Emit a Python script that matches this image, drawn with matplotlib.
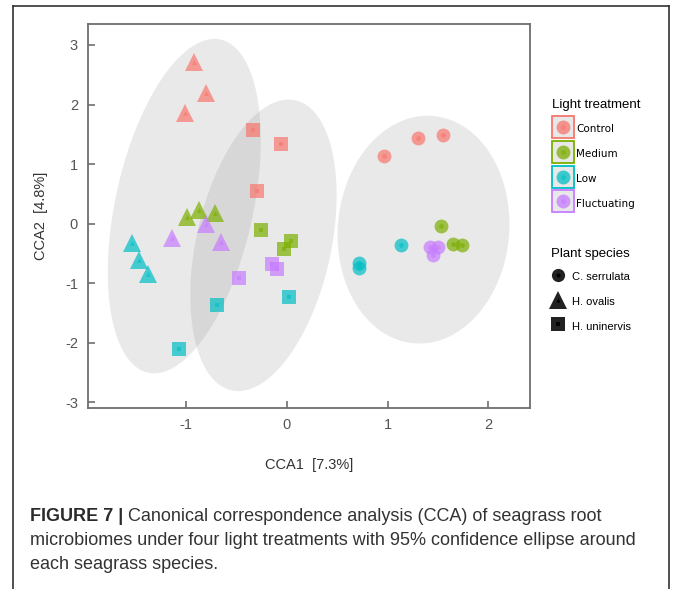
import numpy as np
import matplotlib.pyplot as plt
from matplotlib.patches import Polygon
from matplotlib.lines import Line2D

# light treatments and species
treatments = ['Control', 'Medium', 'Low', 'Fluctuating']
tr_colors = ['#F8766D', '#7CAE00', '#00BFC4', '#C77CFF']
species = ['C. serrulata', 'H. ovalis', 'H. uninervis']
sp_markers = ['o', '^', 's']

# CCA scores, per species, per treatment (3 replicates each)
cca1_cs = [[0.96, 1.30, 1.55], [1.53, 1.65, 1.74], [1.13, 0.72, 0.72], [1.42, 1.50, 1.45]]
cca2_cs = [[1.13, 1.44, 1.49], [-0.04, -0.34, -0.36], [-0.36, -0.67, -0.75], [-0.39, -0.40, -0.53]]
cca1_ho = [[-0.92, -0.80, -1.01], [-0.99, -0.87, -0.71], [-1.53, -1.46, -1.37], [-0.80, -1.14, -0.65]]
cca2_ho = [[2.71, 2.19, 1.86], [0.11, 0.23, 0.18], [-0.33, -0.61, -0.85], [-0.01, -0.25, -0.31]]
cca1_hu = [[-0.33, -0.06, -0.29], [-0.25, 0.04, -0.03], [0.02, -0.69, -1.07], [-0.14, -0.10, -0.47]]
cca2_hu = [[1.57, 1.34, 0.55], [-0.11, -0.29, -0.42], [-1.23, -1.37, -2.11], [-0.68, -0.77, -0.91]]

scores = [(cca1_cs, cca2_cs), (cca1_ho, cca2_ho), (cca1_hu, cca2_hu)]


def cov_trob(X, nu=5, maxit=25, tol=0.01):
    # multivariate t robust covariance, like MASS::cov.trob
    n, p = X.shape
    loc = X.mean(axis=0)
    w = np.ones(n)
    for _ in range(maxit):
        w0 = w
        Xc = X - loc
        u, d, vt = np.linalg.svd(np.sqrt(w / w.sum())[:, None] * Xc, full_matrices=False)
        wX = Xc @ vt.T @ np.diag(1 / d)
        Q = (wX ** 2).sum(axis=1)
        w = (nu + p) / (nu + Q)
        loc = (w[:, None] * X).sum(axis=0) / w.sum()
        if np.all(np.abs(w - w0) < tol):
            break
    Xc = X - loc
    cov = (np.sqrt(w)[:, None] * Xc).T @ (np.sqrt(w)[:, None] * Xc) / n
    return loc, cov


plt.rcParams['font.family'] = ['Liberation Sans', 'DejaVu Sans']
plt.rcParams['axes.unicode_minus'] = False

fig = plt.figure(figsize=(6.75, 5.89), dpi=100)
ax = fig.add_axes([0.130, 0.307, 0.655, 0.652])

# 95% ellipses around each species
th = np.linspace(0, 2 * np.pi, 200)
circ = np.column_stack([np.cos(th), np.sin(th)])
for xs, ys in scores:
    X = np.column_stack([np.ravel(xs), np.ravel(ys)])
    n = len(X)
    loc, cov = cov_trob(X)
    F = (n - 1) / 2 * (0.05 ** (-2 / (n - 1)) - 1)
    r = np.sqrt(2 * F)
    L = np.linalg.cholesky(cov)
    pts = loc + r * circ @ L.T
    ax.add_patch(Polygon(pts, closed=True, facecolor='#808080', alpha=0.17,
                         edgecolor='none', zorder=1))

sizes = {'o': 10, '^': 13, 's': 10.5}
for (xs, ys), m in zip(scores, sp_markers):
    for i, c in enumerate(tr_colors):
        ax.plot(xs[i], ys[i], ls='none', marker=m, ms=sizes[m], color=c, alpha=0.7, mew=0, zorder=3)
        ax.plot(xs[i], ys[i], ls='none', marker=m, ms=3.5, color=c, alpha=0.6, mew=0, zorder=4)

ax.set_xlim(-1.97, 2.41)
ax.set_ylim(-3.1, 3.35)
ax.set_xticks([-1, 0, 1, 2])
ax.set_yticks([-3, -2, -1, 0, 1, 2, 3])
ax.tick_params(direction='in', length=5, width=1.2, color='#6e6e6e', labelcolor='#555555',
               labelsize=10.5, pad=7)
for s in ax.spines.values():
    s.set_color('#6e6e6e')
    s.set_linewidth(1.3)
ax.set_xlabel('CCA1  [7.3%]', fontsize=10.5, color='#333333', labelpad=19)
ax.set_ylabel('CCA2  [4.8%]', fontsize=10.5, color='#333333', labelpad=12)

# legends
h1 = []
for c in tr_colors:
    box = Line2D([], [], ls='none', marker='s', ms=15.5, mfc='#e8e8e8', mec=c, mew=1.3)
    dot = Line2D([], [], ls='none', marker='o', ms=10, color=c, alpha=0.75, mew=0)
    cen = Line2D([], [], ls='none', marker='o', ms=3.5, color=c, alpha=0.6, mew=0)
    h1.append((box, dot, cen))
leg1 = fig.legend(h1, treatments, loc='upper left', bbox_to_anchor=(547 / 675, 1 - 94 / 589),
                  frameon=False, title='Light treatment', alignment='left',
                  prop={'family': 'DejaVu Sans', 'size': 7.5}, title_fontsize=9.5,
                  handlelength=2.05, handleheight=1.75, handletextpad=0.28, labelspacing=1.0,
                  borderpad=0)
h2 = []
for m in sp_markers:
    big = Line2D([], [], ls='none', marker=m, ms=sizes[m] * 0.95, color='#222222', mew=0)
    cen = Line2D([], [], ls='none', marker=m, ms=3, color='black', mew=0)
    h2.append((big, cen))
leg2 = fig.legend(h2, species, loc='upper left', bbox_to_anchor=(545 / 675, 1 - 242 / 589),
                  frameon=False, title='Plant species', alignment='left',
                  prop={'size': 8}, title_fontsize=9.5,
                  handlelength=1.3, handleheight=1.65, handletextpad=0.6, labelspacing=0.9,
                  borderpad=0)

# outer frame
for xx, yy in [([13, 13], [6, 589]), ([13, 669], [6, 6]), ([669, 669], [6, 589])]:
    fig.add_artist(Line2D([xx[0] / 675, xx[1] / 675], [1 - yy[0] / 589, 1 - yy[1] / 589],
                          transform=fig.transFigure, color='#333333', lw=1.2))

# caption
cap = 13
t1 = fig.text(30 / 675, 1 - 521 / 589, 'FIGURE 7 |', fontsize=cap, weight='bold', color='#2b2b2b')
ax.annotate(' Canonical correspondence analysis (CCA) of seagrass root', xy=(1, 0), xycoords=t1,
            va='bottom', ha='left', fontsize=cap, color='#333333', annotation_clip=False)
fig.text(30 / 675, 1 - 545 / 589,
         'microbiomes under four light treatments with 95% confidence ellipse around',
         fontsize=cap, color='#333333')
fig.text(30 / 675, 1 - 569 / 589, 'each seagrass species.', fontsize=cap, color='#333333')

fig.savefig('out.png', dpi=100)
